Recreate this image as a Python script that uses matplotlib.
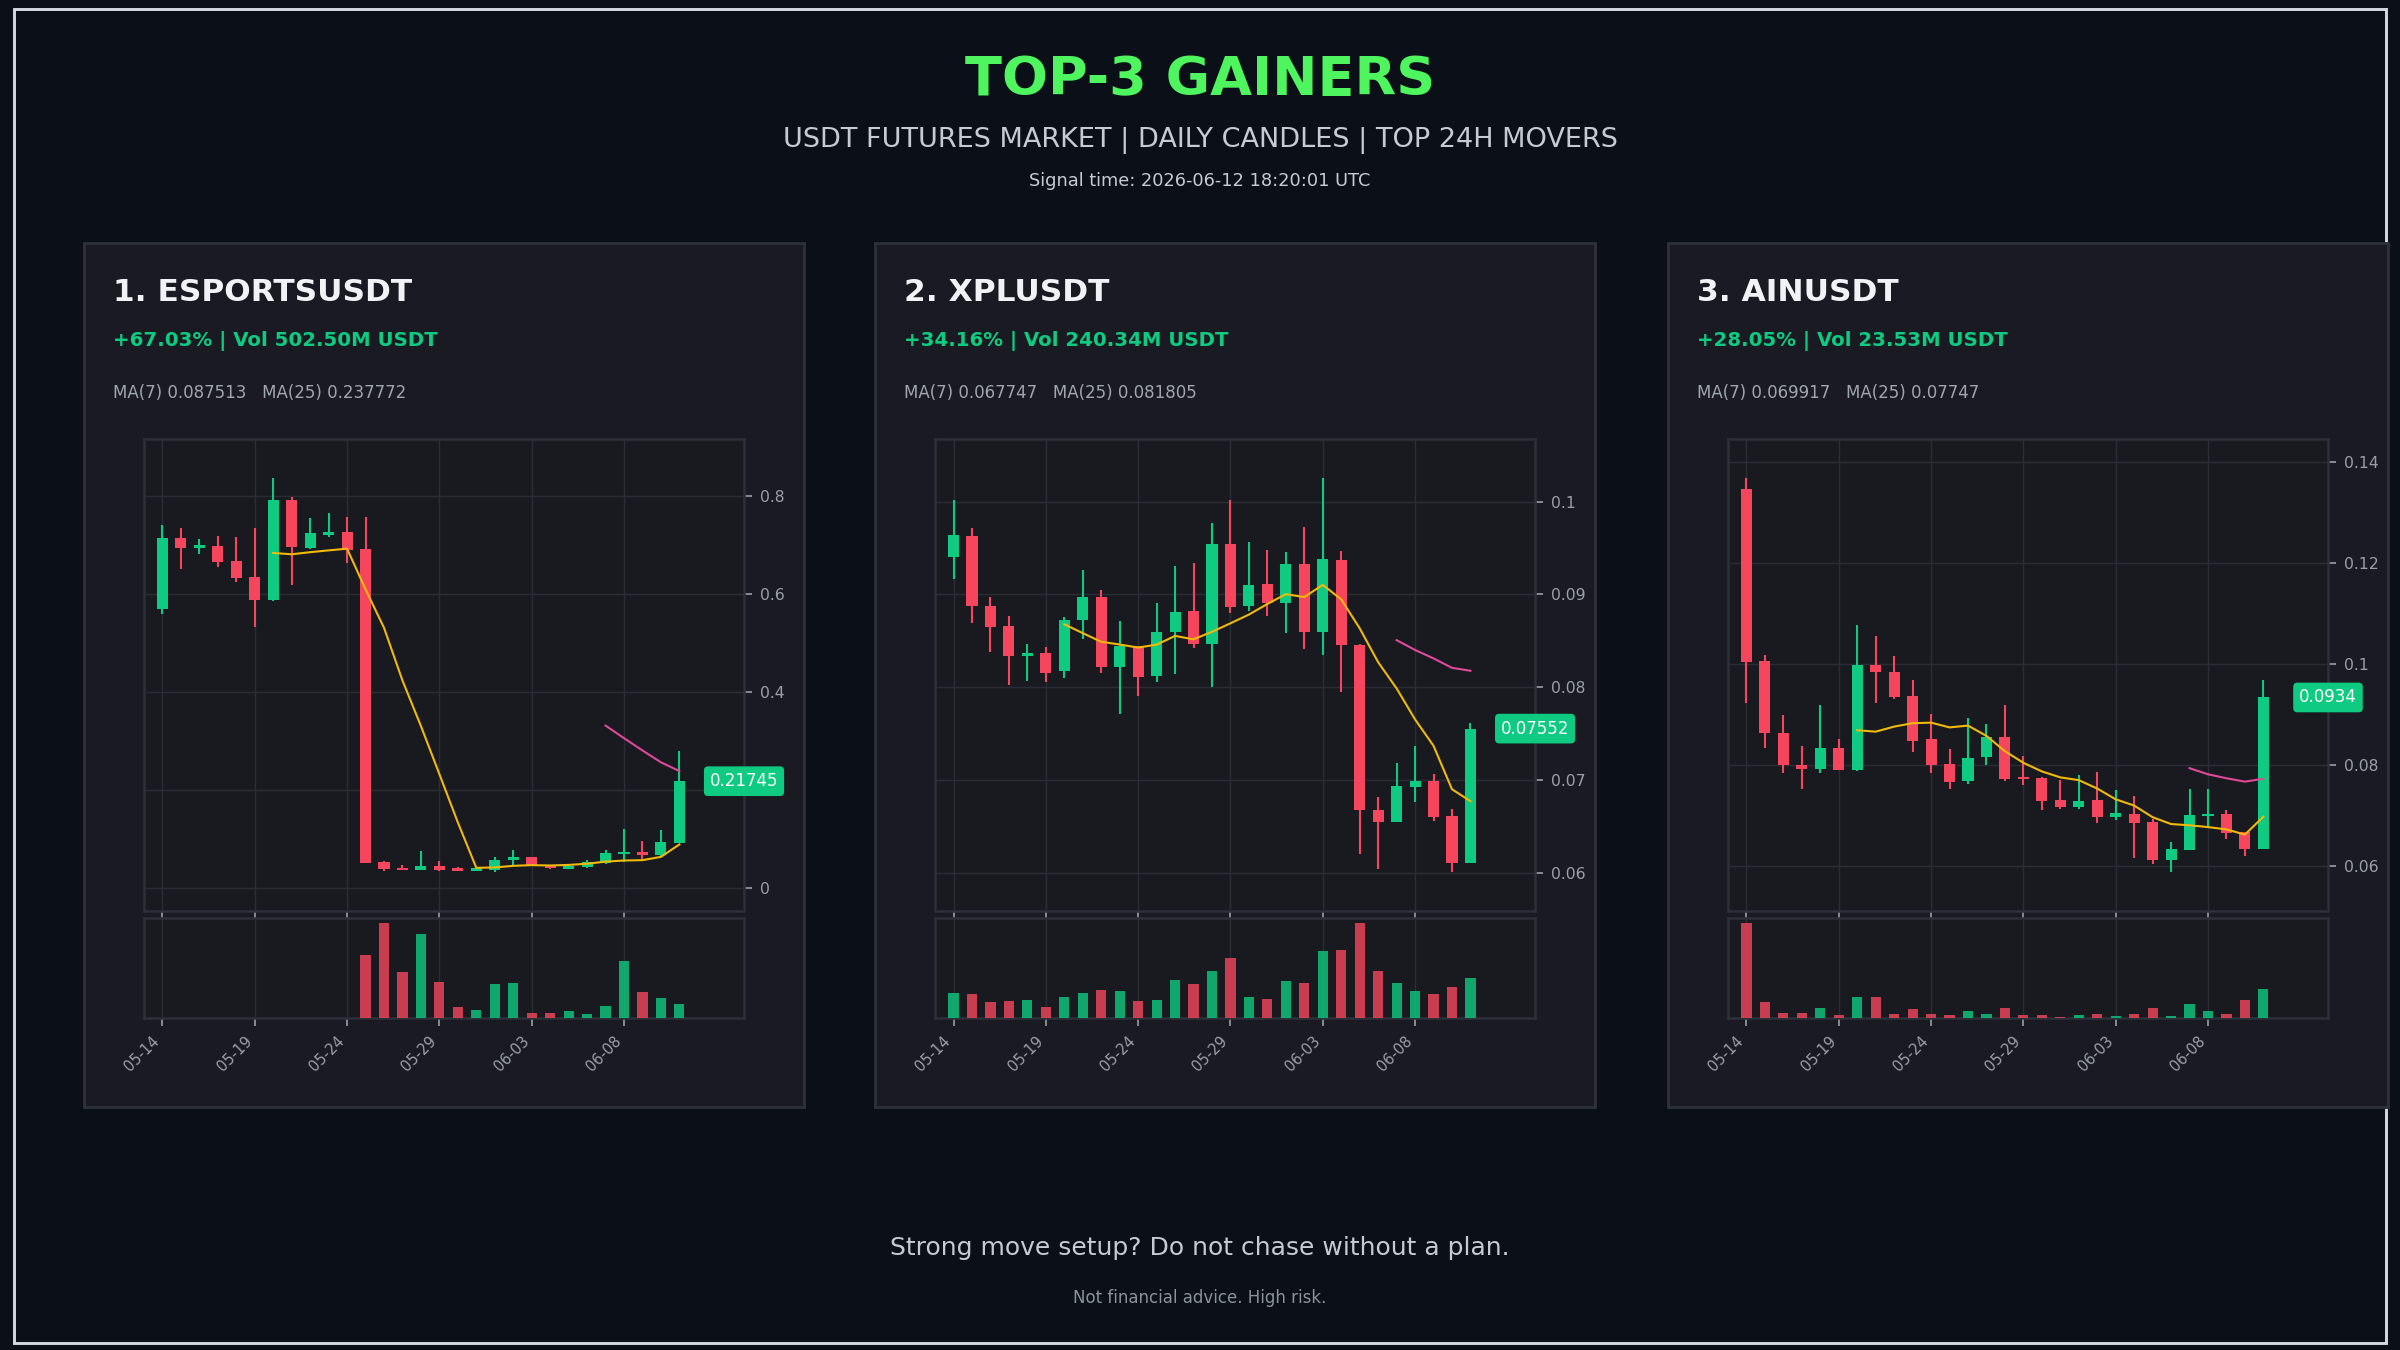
import numpy as np
import pandas as pd
import matplotlib
matplotlib.use("Agg")
import matplotlib.pyplot as plt
from matplotlib.patches import Rectangle
from matplotlib.ticker import FuncFormatter, FixedLocator
import matplotlib.transforms as mtransforms

# ---------------- data ----------------
symbols = ["ESPORTSUSDT", "XPLUSDT", "AINUSDT"]
changes = ["+67.03%", "+34.16%", "+28.05%"]
quote_vols = ["502.50M", "240.34M", "23.53M"]
ma7_text = ["0.087513", "0.067747", "0.069917"]
ma25_text = ["0.237772", "0.081805", "0.07747"]
last_labels = ["0.21745", "0.07552", "0.0934"]
start_date = "2026-05-14"
n_days = 29

esp_open = [0.569, 0.714, 0.693, 0.698, 0.666, 0.634, 0.587, 0.790, 0.693, 0.720, 0.725, 0.690,
            0.052, 0.041, 0.037, 0.045, 0.041, 0.035, 0.037, 0.056, 0.062, 0.047, 0.039, 0.042,
            0.050, 0.069, 0.073, 0.067, 0.092]
esp_close = [0.714, 0.693, 0.699, 0.665, 0.632, 0.587, 0.790, 0.695, 0.723, 0.725, 0.689, 0.0516,
             0.039, 0.037, 0.045, 0.037, 0.035, 0.041, 0.057, 0.062, 0.047, 0.040, 0.045, 0.052,
             0.071, 0.073, 0.067, 0.094, 0.21745]
esp_high = [0.739, 0.733, 0.712, 0.718, 0.716, 0.733, 0.835, 0.796, 0.755, 0.765, 0.757, 0.757,
            0.055, 0.046, 0.075, 0.055, 0.043, 0.043, 0.062, 0.077, 0.063, 0.047, 0.047, 0.056,
            0.077, 0.120, 0.096, 0.118, 0.279]
esp_low = [0.558, 0.651, 0.681, 0.655, 0.624, 0.531, 0.585, 0.618, 0.690, 0.716, 0.663, 0.0516,
           0.035, 0.037, 0.037, 0.035, 0.035, 0.035, 0.033, 0.047, 0.045, 0.038, 0.038, 0.041,
           0.049, 0.052, 0.058, 0.065, 0.091]
esp_vol = [0.6, 0.4, 0.3, 0.4, 0.5, 0.5, 0.9, 0.7, 0.4, 0.3, 0.6, 190, 287, 140, 253, 109, 34,
           25, 103, 106, 16, 16, 22, 13, 37, 172, 79, 61, 43]

xpl_open = [0.0940, 0.0963, 0.0887, 0.0866, 0.0834, 0.0837, 0.0817, 0.0872, 0.0897, 0.0822,
            0.0844, 0.0812, 0.0859, 0.0882, 0.0846, 0.0954, 0.0887, 0.0911, 0.0891, 0.0933,
            0.0859, 0.0937, 0.0845, 0.0668, 0.0654, 0.0692, 0.0699, 0.0661, 0.0610]
xpl_close = [0.0964, 0.0887, 0.0865, 0.0834, 0.0837, 0.0815, 0.0872, 0.0897, 0.0822, 0.0844,
             0.0811, 0.0859, 0.0881, 0.0846, 0.0954, 0.0886, 0.0910, 0.0891, 0.0933, 0.0859,
             0.0938, 0.0845, 0.0668, 0.0654, 0.0693, 0.0699, 0.0660, 0.0610, 0.07552]
xpl_high = [0.1002, 0.0971, 0.0897, 0.0877, 0.0846, 0.0843, 0.0875, 0.0926, 0.0905, 0.0871,
            0.0844, 0.0891, 0.0931, 0.0934, 0.0977, 0.1002, 0.0956, 0.0948, 0.0946, 0.0973,
            0.1025, 0.0947, 0.0846, 0.0682, 0.0718, 0.0736, 0.0706, 0.0669, 0.0761]
xpl_low = [0.0917, 0.0869, 0.0838, 0.0802, 0.0807, 0.0805, 0.0810, 0.0852, 0.0815, 0.0771,
           0.0790, 0.0805, 0.0814, 0.0842, 0.0800, 0.0880, 0.0882, 0.0877, 0.0858, 0.0841,
           0.0835, 0.0795, 0.0620, 0.0604, 0.0654, 0.0676, 0.0656, 0.0601, 0.0610]
xpl_vol = [76, 73, 49, 52, 55, 34, 64, 76, 85, 82, 52, 55, 115, 103, 142, 181, 64, 58, 112,
           106, 202, 205, 287, 142, 106, 82, 73, 94, 121]

ain_open = [0.1347, 0.1006, 0.0864, 0.0801, 0.0793, 0.0833, 0.0790, 0.0998, 0.0984, 0.0937,
            0.0852, 0.0803, 0.0768, 0.0817, 0.0855, 0.0776, 0.0774, 0.0731, 0.0718, 0.0731,
            0.0698, 0.0704, 0.0688, 0.0612, 0.0632, 0.0699, 0.0704, 0.0667, 0.0634]
ain_close = [0.1005, 0.0864, 0.0801, 0.0793, 0.0833, 0.0790, 0.0998, 0.0985, 0.0934, 0.0848,
             0.0801, 0.0767, 0.0815, 0.0855, 0.0773, 0.0773, 0.0729, 0.0718, 0.0729, 0.0698,
             0.0706, 0.0686, 0.0612, 0.0634, 0.0701, 0.0704, 0.0666, 0.0634, 0.0934]
ain_high = [0.1368, 0.1019, 0.0899, 0.0838, 0.0919, 0.0852, 0.1078, 0.1056, 0.1016, 0.0969,
            0.0901, 0.0831, 0.0894, 0.0881, 0.0919, 0.0818, 0.0777, 0.0770, 0.0780, 0.0786,
            0.0751, 0.0739, 0.0694, 0.0648, 0.0753, 0.0753, 0.0711, 0.0667, 0.0969]
ain_low = [0.0924, 0.0833, 0.0785, 0.0752, 0.0785, 0.0790, 0.0789, 0.0924, 0.0930, 0.0825,
           0.0785, 0.0752, 0.0762, 0.0801, 0.0768, 0.0760, 0.0712, 0.0714, 0.0714, 0.0685,
           0.0691, 0.0617, 0.0605, 0.0589, 0.0632, 0.0678, 0.0653, 0.0620, 0.0634]
ain_vol = [287, 49, 16, 16, 31, 10, 64, 64, 13, 28, 13, 10, 22, 13, 31, 10, 10, 4, 10, 13, 7,
           13, 31, 7, 43, 22, 13, 55, 88]

# ---------------- style ----------------
BG = "#0a0f18"
CARD = "#1a1b22"
CARD_EDGE = "#2c3039"
AX_BG = "#181a20"
GRID = "#2a2d35"
UP = "#0ecb81"
DOWN = "#f6465d"
MA7_C = "#f0b90b"
MA25_C = "#e0489a"
TICK_C = "#9aa0a8"

plt.rcParams["font.family"] = ["DejaVu Sans"]

fig = plt.figure(figsize=(16, 9), dpi=150, facecolor=BG)

# outer frame
fig.patches.append(Rectangle((0.0058, 0.0055), 0.9884, 0.988, transform=fig.transFigure,
                             fill=False, edgecolor="#d4d9e2", linewidth=1.4, zorder=0))

fig.text(0.5, 0.941, "TOP-3 GAINERS", ha="center", va="center", fontsize=26,
         fontweight="bold", color="#4ef55f")
fig.text(0.5, 0.896, "USDT FUTURES MARKET | DAILY CANDLES | TOP 24H MOVERS", ha="center",
         va="center", fontsize=13, color="#c5cad3")
fig.text(0.5, 0.866, "Signal time: 2026-06-12 18:20:01 UTC", ha="center", va="center",
         fontsize=8.5, color="#c5cad3")
fig.text(0.5, 0.0755, "Strong move setup? Do not chase without a plan.", ha="center",
         va="center", fontsize=12, color="#c5cad3")
fig.text(0.5, 0.0385, "Not financial advice. High risk.", ha="center", va="center",
         fontsize=8, color="#8b929c")

panels = [
    (esp_open, esp_high, esp_low, esp_close, esp_vol),
    (xpl_open, xpl_high, xpl_low, xpl_close, xpl_vol),
    (ain_open, ain_high, ain_low, ain_close, ain_vol),
]
card_x = [0.035, 0.3646, 0.695]
card_w = 0.3
card_y0, card_y1 = 0.180, 0.820

dates = pd.date_range(start_date, periods=n_days, freq="D")
date_labels = list(dates.strftime("%m-%d"))
tick_idx = list(range(0, n_days, 5))

fmt = FuncFormatter(lambda v, p: f"{v:g}")

for k, (o, h, l, c, vol) in enumerate(panels):
    cx = card_x[k]
    fig.patches.append(Rectangle((cx, card_y0), card_w, card_y1 - card_y0,
                                 transform=fig.transFigure, facecolor=CARD,
                                 edgecolor=CARD_EDGE, linewidth=1.4, zorder=1))
    fig.text(cx + 0.0122, 0.7832, f"{k + 1}. {symbols[k]}", ha="left", va="center",
             fontsize=15, fontweight="bold", color="#f0f2f5", zorder=3)
    fig.text(cx + 0.0122, 0.7475, f"{changes[k]} | Vol {quote_vols[k]} USDT", ha="left",
             va="center", fontsize=9.5, fontweight="bold", color=UP, zorder=3)
    fig.text(cx + 0.0122, 0.709, f"MA(7) {ma7_text[k]}   MA(25) {ma25_text[k]}", ha="left",
             va="center", fontsize=8.0, color="#a0a6ae", zorder=3)

    o = np.array(o); h = np.array(h); l = np.array(l); c = np.array(c); vol = np.array(vol)
    x = np.arange(len(c))
    up = c >= o
    col = np.where(up, UP, DOWN)

    ax = fig.add_axes([cx + 0.025, 0.3252, 0.25, 0.3496], zorder=2)
    axv = fig.add_axes([cx + 0.025, 0.2459, 0.25, 0.0741], zorder=2, sharex=ax)
    for a in (ax, axv):
        a.set_facecolor(AX_BG)
        for s in a.spines.values():
            s.set_color(CARD_EDGE)
            s.set_linewidth(1.2)
        a.grid(True, color=GRID, linewidth=0.7)
        a.set_axisbelow(True)

    lo, hi = l.min(), h.max()
    r = hi - lo
    ax.vlines(x, l, h, colors=col, linewidth=1.0, zorder=3)
    body = np.maximum(np.abs(c - o), r * 0.004)
    ax.bar(x, body, bottom=np.minimum(o, c), width=0.6, color=col, zorder=4, linewidth=0)

    cs = pd.Series(c)
    ma7 = cs.rolling(7).mean()
    ma25 = cs.rolling(25).mean()
    ax.plot(x, ma7, color=MA7_C, linewidth=1.0, zorder=5)
    ax.plot(x, ma25, color=MA25_C, linewidth=1.0, zorder=5)

    ax.set_ylim(lo - 0.1 * r, hi + 0.1 * r)
    ax.set_xlim(-1, n_days + 2.5)
    ax.yaxis.tick_right()
    ax.yaxis.set_major_formatter(fmt)
    ax.tick_params(axis="y", colors=TICK_C, labelsize=7.5, length=4, width=0.8)
    ax.tick_params(axis="x", colors=TICK_C, labelbottom=False, length=4, width=0.8)
    ax.xaxis.set_major_locator(FixedLocator(tick_idx))

    # hide the price tick label that sits behind the last-price tag
    yt = ax.get_yticks()
    ax.yaxis.set_major_locator(FixedLocator(list(yt)))
    for tv, lab in zip(yt, ax.get_yticklabels()):
        if abs(tv - c[-1]) < 0.06 * r:
            lab.set_visible(False)

    trans = mtransforms.blended_transform_factory(ax.transAxes, ax.transData)
    ax.text(1.0, c[-1], last_labels[k], transform=trans, ha="center", va="center",
            fontsize=8, color="white", zorder=10,
            bbox=dict(boxstyle="round,pad=0.35,rounding_size=0.25", facecolor=UP,
                      edgecolor="none"))

    axv.bar(x, vol, width=0.55, color=col, alpha=0.8, linewidth=0, zorder=3)
    axv.set_ylim(0, vol.max() * 1.05)
    axv.set_yticks([])
    axv.set_xticks(tick_idx)
    axv.set_xticklabels([date_labels[i] for i in tick_idx], rotation=45, ha="right")
    axv.tick_params(axis="x", colors=TICK_C, labelsize=7, length=4, width=0.8)
    axv.tick_params(axis="y", length=0)

fig.savefig("out.png", dpi=150, facecolor=BG)
